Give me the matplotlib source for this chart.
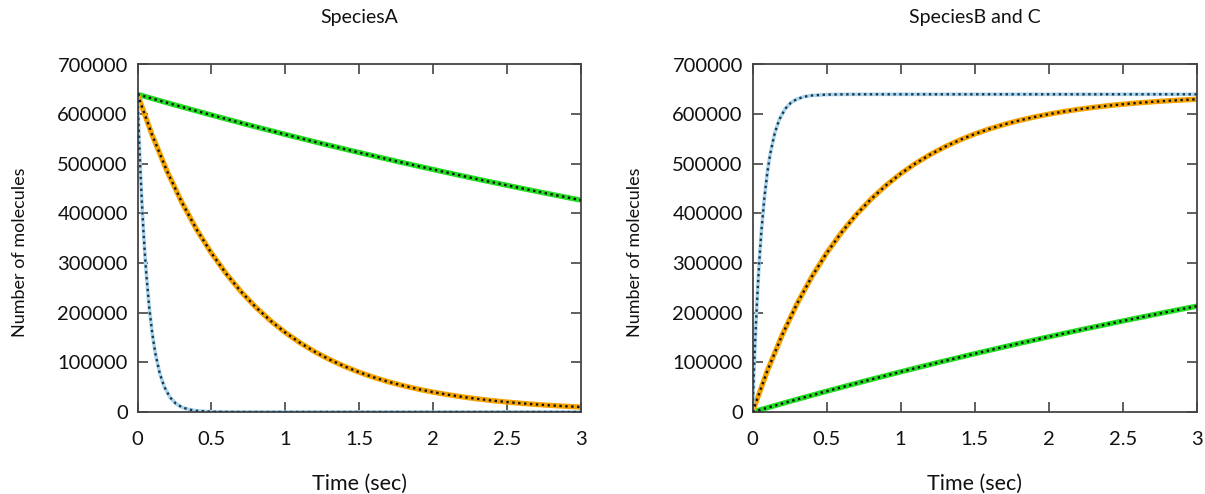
import matplotlib
matplotlib.use("Agg")
import matplotlib.pyplot as plt

plt.rcParams['font.family'] = ['Lato', 'DejaVu Sans']

# ---- data (time in s, molecules) ----
t_fast = [0, 0.01, 0.02, 0.03, 0.04, 0.05, 0.06, 0.08, 0.10, 0.12, 0.15, 0.18,
          0.22, 0.26, 0.30, 0.35, 0.40, 0.50, 0.60, 0.80, 1.0, 1.5, 2.0, 2.5, 3.0]
a_fast = [640000, 556400, 483700, 420500, 365600, 317800, 276300, 208800, 157800,
          119300, 78400, 51500, 29400, 16800, 9600, 4800, 2400, 600, 150, 0, 0, 0, 0, 0, 0]
b_fast = [0, 83600, 156300, 219500, 274400, 322200, 363700, 431200, 482200,
          520700, 561600, 588500, 610600, 623200, 630400, 635200, 637600, 639400,
          639850, 640000, 640000, 640000, 640000, 640000, 640000]

t_mid = [0.0, 0.1, 0.2, 0.3, 0.4, 0.5, 0.6, 0.7, 0.8, 0.9, 1.0, 1.1, 1.2, 1.3, 1.4,
         1.5, 1.6, 1.7, 1.8, 1.9, 2.0, 2.1, 2.2, 2.3, 2.4, 2.5, 2.6, 2.7, 2.8, 2.9, 3.0]
a_mid = [640000, 557150, 485030, 422240, 367580, 320000, 278580, 242520, 211120,
         183790, 160000, 139290, 121260, 105560, 91900, 80000, 69640, 60630, 52780,
         45950, 40000, 34820, 30310, 26390, 22970, 20000, 17410, 15160, 13200, 11490, 10000]
b_mid = [0, 82850, 154970, 217760, 272420, 320000, 361420, 397480, 428880, 456210,
         480000, 500710, 518740, 534440, 548100, 560000, 570360, 579370, 587220,
         594050, 600000, 605180, 609690, 613610, 617030, 620000, 622590, 624840,
         626800, 628510, 630000]

t_slow = [0, 0.25, 0.5, 0.75, 1.0, 1.25, 1.5, 1.75, 2.0, 2.25, 2.5, 2.75, 3.0]
a_slow = [640000, 618700, 598200, 578300, 559100, 540500, 522600, 505200, 488500,
          472200, 456600, 441400, 426700]
b_slow = [0, 21300, 41800, 61700, 80900, 99500, 117400, 134800, 151500, 167800,
          183400, 198600, 213300]

x_ticks = [0, 0.5, 1, 1.5, 2, 2.5, 3]
x_ticklabels = ['0', '0.5', '1', '1.5', '2', '2.5', '3']
y_ticks = [0, 100000, 200000, 300000, 400000, 500000, 600000, 700000]
titles = ['SpeciesA', 'SpeciesB and C']

W, H = 1205, 494
fig = plt.figure(figsize=(W / 100, H / 100), dpi=100)

ax_l = fig.add_axes([137.5 / W, (H - 412) / H, 443.5 / W, 347.5 / H])
ax_r = fig.add_axes([752.5 / W, (H - 412) / H, 444.5 / W, 347.5 / H])

dot = (0, (1.0, 1.5))
frame_col = '#444444'


def draw(ax, series):
    for t, y, col, lw, dcol in series:
        ax.plot(t, y, color=col, lw=lw, solid_capstyle='butt', zorder=2)
        ax.plot(t, y, color=dcol, lw=1.7, linestyle=dot, zorder=3)
    ax.set_xlim(0, 3)
    ax.set_ylim(0, 700000)
    ax.set_xticks(x_ticks)
    ax.set_xticklabels(x_ticklabels)
    ax.set_yticks(y_ticks)
    ax.set_yticklabels([str(v) for v in y_ticks])
    ax.tick_params(axis='both', direction='in', length=7, width=1.2,
                   color=frame_col, labelsize=14.5, labelcolor='#111111',
                   top=True, right=True)
    ax.tick_params(axis='x', pad=14)
    ax.tick_params(axis='y', pad=7)
    for s in ax.spines.values():
        s.set_color(frame_col)
        s.set_linewidth(1.3)


green = '#22dd22'
orange = '#f5a300'
lblue = '#a9d6ec'

draw(ax_l, [
    (t_slow, a_slow, green, 3.8, '#111111'),
    (t_mid, a_mid, orange, 3.8, '#111111'),
    (t_fast, a_fast, lblue, 2.6, '#1e3550'),
])
draw(ax_r, [
    (t_slow, b_slow, green, 3.8, '#111111'),
    (t_mid, b_mid, orange, 3.8, '#111111'),
    (t_fast, b_fast, lblue, 2.6, '#1e3550'),
])

for ax, title in zip([ax_l, ax_r], titles):
    pos = ax.get_position()
    cx = (pos.x0 + pos.x1) / 2
    fig.text(cx, 1 - 18 / H, title, ha='center', va='center', fontsize=14, color='#111111')
    fig.text(cx, 1 - 484 / H, 'Time (sec)', ha='center', va='center', fontsize=15.5, color='#111111')
    fig.text(pos.x0 - 117 / W, 1 - 252 / H, 'Number of molecules', rotation=90,
             ha='center', va='center', fontsize=13, color='#111111')

fig.savefig('out.png', dpi=100)
